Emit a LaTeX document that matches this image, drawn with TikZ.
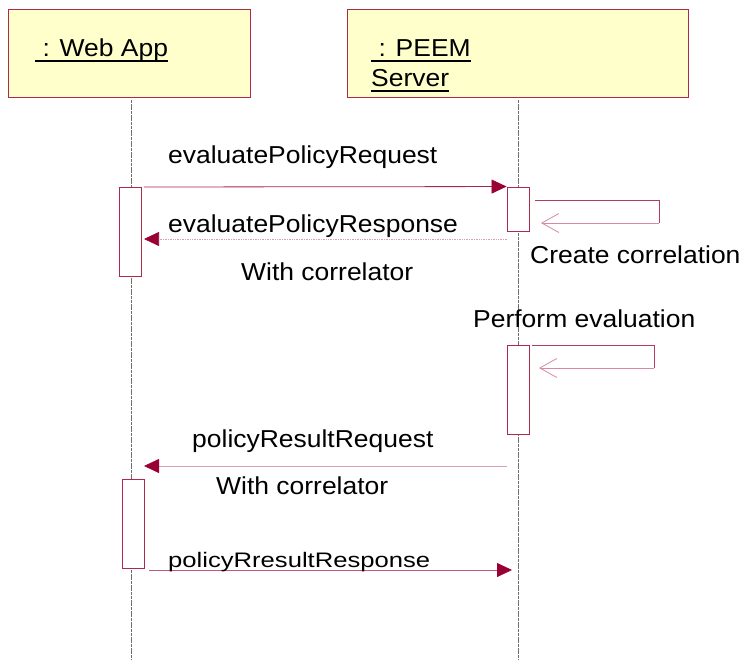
\documentclass[tikz,border=0pt]{standalone}
\usepackage{fontspec}
\setmainfont{Liberation Sans}[FakeStretch=1.08]
\newfontfamily\widefont{Liberation Sans}[FakeStretch=1.22]
\usetikzlibrary{arrows.meta}
\definecolor{boxfill}{HTML}{FFFFCC}
\definecolor{boxline}{HTML}{B0284C}
\definecolor{msg}{HTML}{990033}
\definecolor{lite}{HTML}{D8A0B0}
\definecolor{selfdark}{HTML}{B83A60}
\definecolor{selflite}{HTML}{D88AA2}
\definecolor{life}{HTML}{707070}
\begin{document}
\begin{tikzpicture}[x=1pt,y=-1pt,
  objbox/.style={draw=boxline,fill=boxfill,line width=0.9pt,inner sep=0pt},
  actbox/.style={draw=boxline,fill=white,line width=0.9pt,inner sep=0pt,minimum width=22pt},
  lbl/.style={anchor=base west,inner sep=0pt,font=\fontsize{24.5}{26}\selectfont},
  hdr/.style={anchor=base west,inner sep=0pt,font=\fontsize{24.5}{26}\selectfont},
  uline/.style={line width=1.4pt,black},
  lifeline/.style={draw=life,line width=0.9pt,dash pattern=on 3pt off 0.7pt},
  fullhead/.style={-{Triangle[length=15pt,width=14pt,color=msg]}},
  msgsolid/.style={draw=msg!85,line width=0.8pt,fullhead},
  msgreturn/.style={draw=lite,line width=0.7pt,densely dotted,fullhead},
  msglite/.style={draw=lite,line width=0.8pt,fullhead},
  selfback/.style={draw=selflite,line width=0.9pt,-{Straight Barb[length=17pt,width=19pt,line width=0.8pt]}},
  selfout/.style={draw=selfdark,line width=0.9pt}
]
\useasboundingbox (0,0) rectangle (741,660);

% objects
\node[objbox,minimum width=242pt,minimum height=88pt] (web) at (129,53) {};
\node[objbox,minimum width=341pt,minimum height=88pt] (peem) at (517.5,53) {};
\node[hdr] (webt) at (35,57) {\ : Web App};
\node[hdr] (peemt1) at (371,57) {\ : PEEM};
\node[hdr] (peemt2) at (371,87) {Server};
\draw[uline] ([yshift=-4pt]webt.base west) -- ([yshift=-4pt]webt.base east);
\draw[uline] ([yshift=-4pt]peemt1.base west) -- ([yshift=-4pt]peemt1.base east);
\draw[uline] ([yshift=-4pt]peemt2.base west) -- ([yshift=-4pt]peemt2.base east);

% lifelines
\coordinate (wl0) at (131,100);
\coordinate (wl1) at (131,660);
\coordinate (pl0) at (518,100);
\coordinate (pl1) at (518,660);
\draw[lifeline] (wl0) -- (wl1);
\draw[lifeline] (pl0) -- (pl1);

% activations
\node[actbox,minimum height=89pt] (wa1) at (130,231.5) {};
\node[actbox,minimum height=44pt] (pa1) at (518,209) {};
\node[actbox,minimum height=89pt] (pa2) at (518,389.5) {};
\node[actbox,minimum height=89pt] (wa2) at (133,523.5) {};

% message 1
\coordinate (m1s) at (144,187);
\draw[msgsolid] (m1s) -- (pa1.north west);
\node[lbl] (t1) at (168,164) {evaluatePolicyRequest};

% self message 1
\coordinate (s1a) at (535,200);
\coordinate (s1b) at (659,200);
\coordinate (s1c) at (659,223);
\coordinate (s1d) at (541,223);
\draw[selfout] (s1a) -- (s1b) -- (s1c);
\draw[selfback] (s1c) -- (s1d);
\node[lbl] (t2) at (530,263) {Create correlation};

% return message
\coordinate (r1s) at (507,239);
\coordinate (r1e) at (144,239);
\draw[msgreturn] (r1s) -- (r1e);
\node[lbl] (t3) at (168,233) {evaluatePolicyResponse};
\node[lbl] (t4) at (241,280) {With correlator};

% self message 2
\node[lbl] (t5) at (473,327) {Perform evaluation};
\coordinate (s2a) at (532,345);
\coordinate (s2b) at (654,345);
\coordinate (s2c) at (654,368);
\coordinate (s2d) at (539,368);
\draw[selfout] (s2a) -- (s2b) -- (s2c);
\draw[selfback] (s2c) -- (s2d);

% policy result request
\coordinate (r2s) at (507,466);
\coordinate (r2e) at (144,466);
\draw[msglite] (r2s) -- (r2e);
\node[lbl] (t6) at (192,447) {policyResultRequest};
\node[lbl] (t7) at (216,494) {With correlator};

% policy result response
\coordinate (r3s) at (149,570);
\coordinate (r3e) at (512,570);
\draw[msglite,draw=selfdark!85] (r3s) -- (r3e);
\node[anchor=base west,inner sep=0pt,font=\widefont\fontsize{21}{23}\selectfont] (t8) at (168,567) {policyRresultResponse};
\end{tikzpicture}
\end{document}
